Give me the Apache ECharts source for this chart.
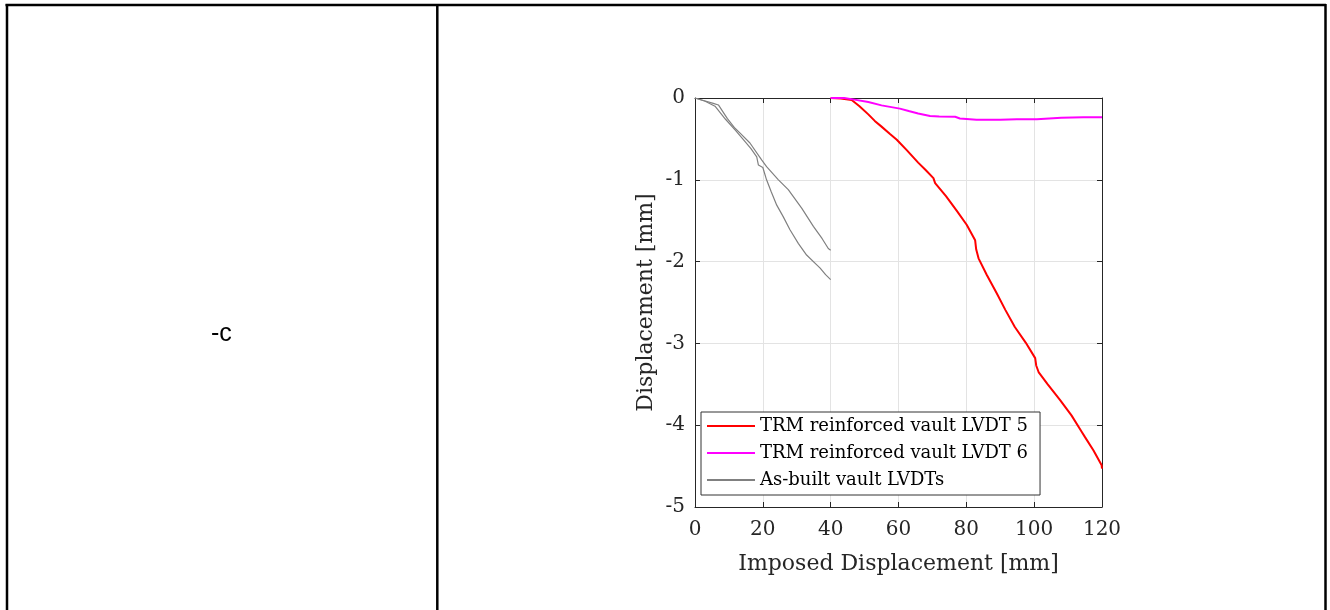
<!DOCTYPE html>
<html>
<head>
<meta charset="utf-8">
<script src="https://cdn.jsdelivr.net/npm/echarts@6/dist/echarts.min.js"></script>
<style>
  html, body { margin: 0; padding: 0; background: #fff; }
  #chart { width: 1330px; height: 610px; }
</style>
</head>
<body>
<div id="chart"></div>
<script>
// x ticks / y ticks
var xTicks = [0, 20, 40, 60, 80, 100, 120];
var yTicks = [-5, -4, -3, -2, -1, 0];

// TRM reinforced vault LVDT 5
var lvdt5X = [40, 43, 46.2, 48.5, 51.1, 53, 55.0, 57.5, 59.5, 62.5, 65.8, 68, 70.3, 70.8, 74, 77.2, 80.1, 82.6, 82.9, 83.6, 86, 89.0, 91.5, 94.3, 97.5, 100.3, 100.6, 101.3, 104, 107.6, 111, 114.0, 114.9, 117.5, 119.9, 120];
var lvdt5Y = [0, -0.005, -0.025, -0.1, -0.2, -0.28, -0.35, -0.44, -0.51, -0.64, -0.79, -0.88, -0.98, -1.04, -1.2, -1.38, -1.55, -1.74, -1.85, -1.96, -2.16, -2.39, -2.59, -2.80, -2.99, -3.18, -3.27, -3.35, -3.50, -3.69, -3.88, -4.08, -4.14, -4.31, -4.49, -4.53];

// TRM reinforced vault LVDT 6
var lvdt6X = [40, 44, 47, 51.1, 55.0, 60.4, 63, 65.8, 69.3, 72, 76.7, 78.1, 83.0, 90, 94.9, 100.8, 101.3, 108, 114.5, 120];
var lvdt6Y = [0, 0, -0.02, -0.05, -0.09, -0.13, -0.16, -0.19, -0.22, -0.225, -0.23, -0.25, -0.265, -0.265, -0.26, -0.26, -0.245, -0.24, -0.235, -0.235];

// As-built vault LVDTs (two sensors)
var builtAX = [0, 2.5, 5.4, 6.9, 9.5, 11.8, 13.3, 16.2, 19.7, 21.1, 24.6, 27.5, 31.5, 34.9, 37.5, 39.3, 40];
var builtAY = [0, -0.03, -0.065, -0.085, -0.25, -0.37, -0.43, -0.55, -0.76, -0.84, -1.0, -1.12, -1.35, -1.57, -1.72, -1.84, -1.86];
var builtBX = [0, 3, 5.9, 9, 12, 14.7, 16.5, 18.2, 18.7, 20, 21.1, 22.5, 24.1, 26, 28.0, 30.5, 32.9, 35.9, 36.9, 38.5, 40];
var builtBY = [0, -0.04, -0.1, -0.26, -0.4, -0.53, -0.62, -0.72, -0.82, -0.85, -1.0, -1.15, -1.31, -1.45, -1.61, -1.78, -1.92, -2.04, -2.08, -2.16, -2.22];

var names = ['TRM reinforced vault LVDT 5', 'TRM reinforced vault LVDT 6', 'As-built vault LVDTs'];

function pairs(xs, ys) {
    var data = [];
    for (var i = 0; i < xs.length; i++) {
        data.push([xs[i], ys[i]]);
    }
    return data;
}

var font = 'DejaVu Serif';
var axisColor = '#262626';
var gridColor = '#e3e3e3';

var chart = echarts.init(document.getElementById('chart'));

function frameLine(x1, y1, x2, y2) {
    return {
        type: 'line',
        shape: {x1: x1, y1: y1, x2: x2, y2: y2},
        style: {stroke: '#000', lineWidth: 2.5}
    };
}

var option = {
    animation: false,
    backgroundColor: '#fff',
    graphic: [
        frameLine(5.5, 5, 1326, 5),
        frameLine(7, 4, 7, 610),
        frameLine(437.3, 4, 437.3, 610),
        frameLine(1325.5, 4, 1325.5, 610),
        {
            type: 'text',
            x: 211,
            y: 334,
            style: {
                text: '-c',
                fontFamily: 'Liberation Sans',
                fontSize: 25,
                fill: '#000',
                verticalAlign: 'middle'
            }
        }
    ],
    grid: {left: 695, top: 98, width: 407, height: 409},
    legend: {
        data: names,
        orient: 'vertical',
        left: 701,
        top: 412,
        icon: 'rect',
        itemWidth: 48,
        itemHeight: 2,
        itemGap: 9,
        padding: [5, 12, 6, 6],
        backgroundColor: '#fff',
        borderColor: '#333',
        borderWidth: 1,
        borderRadius: 0,
        textStyle: {fontFamily: font, fontSize: 18, color: '#000', lineHeight: 18}
    },
    xAxis: [{
        type: 'value',
        min: xTicks[0],
        max: xTicks[xTicks.length - 1],
        interval: 20,
        position: 'bottom',
        name: 'Imposed Displacement [mm]',
        nameLocation: 'middle',
        nameGap: 46,
        nameTextStyle: {fontFamily: font, fontSize: 22, color: axisColor},
        axisLine: {show: true, onZero: false, lineStyle: {color: axisColor, width: 1}},
        axisTick: {show: true, inside: true, length: 5, lineStyle: {color: axisColor}},
        axisLabel: {fontFamily: font, fontSize: 20, color: axisColor, margin: 13},
        splitLine: {show: true, lineStyle: {color: gridColor, width: 1}}
    }, {
        type: 'value',
        min: xTicks[0],
        max: xTicks[xTicks.length - 1],
        interval: 20,
        position: 'top',
        axisLine: {show: true, onZero: false, lineStyle: {color: axisColor, width: 1}},
        axisTick: {show: true, inside: true, length: 5, lineStyle: {color: axisColor}},
        axisLabel: {show: false},
        splitLine: {show: false}
    }],
    yAxis: [{
        type: 'value',
        min: yTicks[0],
        max: yTicks[yTicks.length - 1],
        interval: 1,
        position: 'left',
        name: 'Displacement [mm]',
        nameLocation: 'middle',
        nameGap: 38,
        nameTextStyle: {fontFamily: font, fontSize: 22, color: axisColor},
        axisLine: {show: true, onZero: false, lineStyle: {color: axisColor, width: 1}},
        axisTick: {show: true, inside: true, length: 5, lineStyle: {color: axisColor}},
        axisLabel: {fontFamily: font, fontSize: 20, color: axisColor, margin: 10},
        splitLine: {show: true, lineStyle: {color: gridColor, width: 1}}
    }, {
        type: 'value',
        min: yTicks[0],
        max: yTicks[yTicks.length - 1],
        interval: 1,
        position: 'right',
        axisLine: {show: true, onZero: false, lineStyle: {color: axisColor, width: 1}},
        axisTick: {show: true, inside: true, length: 5, lineStyle: {color: axisColor}},
        axisLabel: {show: false},
        splitLine: {show: false}
    }],
    series: [{
        name: names[2],
        type: 'line',
        data: pairs(builtAX, builtAY),
        symbol: 'none',
        color: '#808080',
        lineStyle: {color: '#808080', width: 1.2},
        z: 2
    }, {
        name: names[2],
        type: 'line',
        data: pairs(builtBX, builtBY),
        symbol: 'none',
        color: '#808080',
        lineStyle: {color: '#808080', width: 1.2},
        z: 2
    }, {
        name: names[0],
        type: 'line',
        data: pairs(lvdt5X, lvdt5Y),
        symbol: 'none',
        color: '#ff0000',
        lineStyle: {color: '#ff0000', width: 2},
        z: 3
    }, {
        name: names[1],
        type: 'line',
        data: pairs(lvdt6X, lvdt6Y),
        symbol: 'none',
        color: '#ff00ff',
        lineStyle: {color: '#ff00ff', width: 2},
        z: 4
    }]
};

chart.setOption(option);
</script>
</body>
</html>
